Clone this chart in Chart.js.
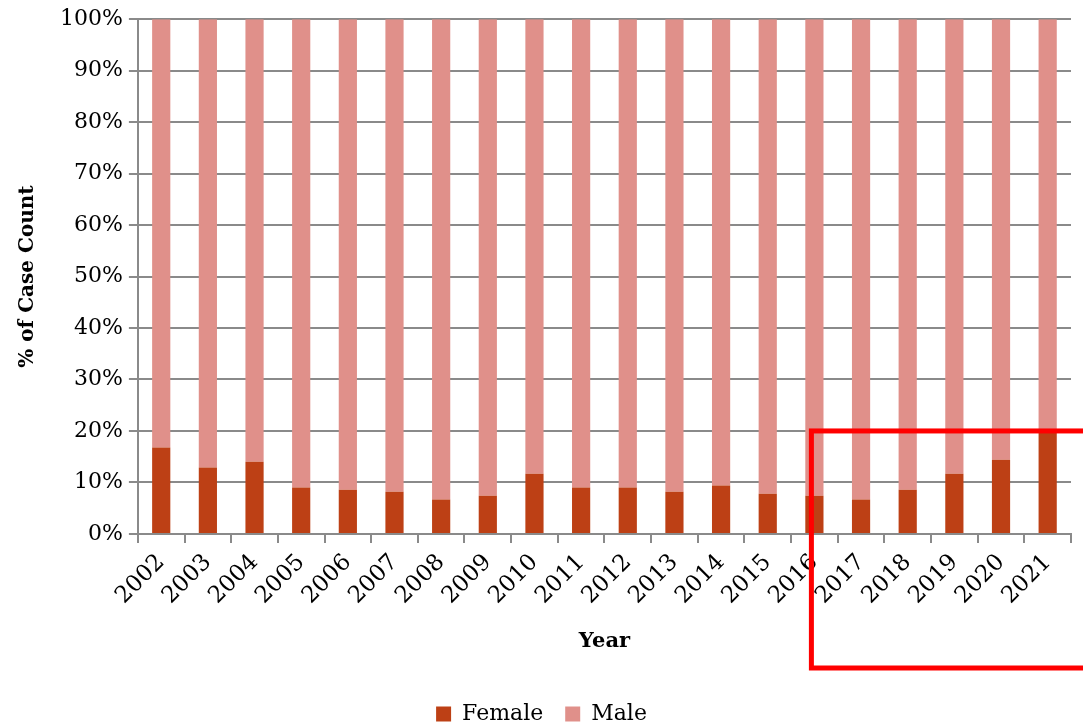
<!DOCTYPE html>
<html>
<head>
<meta charset="utf-8">
<script src="https://cdn.jsdelivr.net/npm/chart.js@4.4.1/dist/chart.umd.min.js"></script>
<style>
  html, body { margin: 0; padding: 0; background: #fff; }
  #wrap { width: 1083px; height: 724px; position: relative; }
</style>
</head>
<body>
<div id="wrap"><canvas id="chart"></canvas></div>
<script>
const years = ["2002","2003","2004","2005","2006","2007","2008","2009","2010","2011",
  "2012","2013","2014","2015","2016","2017","2018","2019","2020","2021"];
const femalePct = [16.8, 12.9, 14.0, 9.0, 8.6, 8.2, 6.7, 7.4, 11.7, 9.0,
  9.0, 8.2, 9.4, 7.8, 7.4, 6.7, 8.6, 11.7, 14.4, 19.7];
const malePct = [83.2, 87.1, 86.0, 91.0, 91.4, 91.8, 93.3, 92.6, 88.3, 91.0,
  91.0, 91.8, 90.6, 92.2, 92.6, 93.3, 91.4, 88.3, 85.6, 80.3];
const yTicks = [0, 10, 20, 30, 40, 50, 60, 70, 80, 90, 100];

const FONT = "'DejaVu Serif', 'Liberation Serif', serif";
const GRID = "#8a8a8a";

// red highlight box drawn over the last few years
const highlightBox = {
  id: "highlightBox",
  afterDraw(chart) {
    const { ctx, scales } = chart;
    const left = scales.x.getPixelForValue(14) - 3;
    const top = scales.y.getPixelForValue(20);
    ctx.save();
    ctx.strokeStyle = "#ff0000";
    ctx.lineWidth = 5;
    ctx.strokeRect(left, top, chart.width - left + 10, 668 - top);
    ctx.restore();
  },
};

new Chart(document.getElementById("chart"), {
  type: "bar",
  data: {
    labels: years,
    datasets: [
      { label: "Female", data: femalePct, backgroundColor: "#bd4015", barPercentage: 0.39, categoryPercentage: 1 },
      { label: "Male", data: malePct, backgroundColor: "#e0908a", barPercentage: 0.39, categoryPercentage: 1 },
    ],
  },
  options: {
    responsive: true,
    maintainAspectRatio: false,
    animation: false,
    layout: { padding: { left: 12, right: 12, top: 8, bottom: -11 } },
    plugins: {
      tooltip: { enabled: false },
      legend: {
        position: "bottom",
        labels: {
          font: { family: FONT, size: 22 },
          color: "#000",
          boxWidth: 15,
          boxHeight: 15,
          padding: 22,
        },
      },
    },
    scales: {
      x: {
        stacked: true,
        grid: { display: true, drawOnChartArea: false, color: GRID, lineWidth: 2, tickLength: 9, offset: true },
        border: { color: GRID, width: 2 },
        ticks: { font: { family: FONT, size: 23 }, color: "#000", maxRotation: 45, minRotation: 45, padding: 6 },
        title: { display: true, text: "Year", font: { family: FONT, size: 21, weight: "bold" }, color: "#000", padding: { top: 13, bottom: 27 } },
      },
      y: {
        stacked: true,
        min: 0,
        max: 100,
        afterBuildTicks: (axis) => { axis.ticks = yTicks.map((v) => ({ value: v })); },
        grid: { color: GRID, lineWidth: 2, tickLength: 9 },
        border: { color: GRID, width: 2 },
        ticks: { font: { family: FONT, size: 22 }, color: "#000", padding: 6, callback: (v) => v + "%" },
        title: { display: true, text: "% of Case Count", font: { family: FONT, size: 20, weight: "bold" }, color: "#000", padding: { bottom: 14 } },
      },
    },
  },
  plugins: [highlightBox],
});
</script>
</body>
</html>
